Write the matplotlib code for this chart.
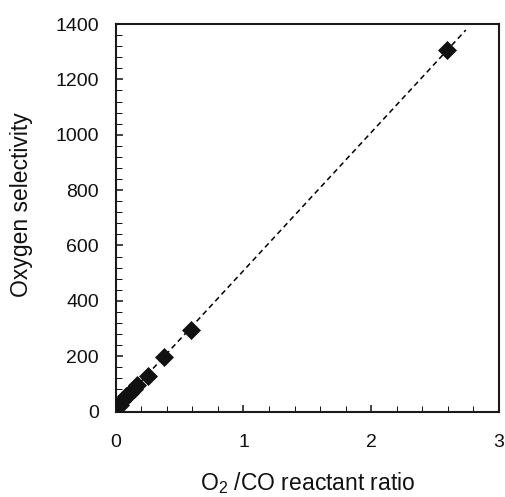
import numpy as np
import matplotlib
matplotlib.use("Agg")
import matplotlib.pyplot as plt
from matplotlib.ticker import MultipleLocator

plt.rcParams["font.family"] = ["Liberation Sans", "DejaVu Sans"]
plt.rcParams["mathtext.fontset"] = "custom"
plt.rcParams["mathtext.rm"] = "Liberation Sans"
plt.rcParams["mathtext.it"] = "Liberation Sans"

# O2/CO ratio vs oxygen selectivity
ratio = [0.03, 0.05, 0.08, 0.11, 0.14, 0.17, 0.25, 0.38, 0.59, 2.59]
selectivity = [25, 38, 55, 68, 82, 95, 129, 196, 294, 1306]

# linear fit drawn as the dashed trend line
slope, icpt = np.polyfit(ratio, selectivity, 1)
x_fit = np.linspace(0, 2.74, 50)
y_fit = slope * x_fit + icpt

fig = plt.figure(figsize=(5.06, 4.97), dpi=100)
ax = fig.add_axes([0.2287, 0.172, 0.7575, 0.7797])

ax.plot(x_fit, y_fit, color="black", lw=1.1, ls=(0, (3.5, 2.5)), zorder=2)
ax.plot(ratio, selectivity, ls="none", marker="D", ms=9.5,
        mfc="#111111", mec="#111111", mew=0.5, zorder=3)

ax.set_xlim(0, 3)
ax.set_ylim(0, 1400)
ax.xaxis.set_major_locator(MultipleLocator(1))
ax.xaxis.set_minor_locator(MultipleLocator(0.2))
ax.yaxis.set_major_locator(MultipleLocator(200))
ax.yaxis.set_minor_locator(MultipleLocator(40))

ax.tick_params(which="both", direction="in", top=False, right=False,
               labelsize=14, colors="#111111")
ax.tick_params(which="major", length=5, width=1.1)
ax.tick_params(which="minor", length=4, width=0.7)
ax.tick_params(axis="x", which="major", pad=16)
ax.tick_params(axis="y", which="major", pad=12)

for sp in ax.spines.values():
    sp.set_linewidth(1.5)
    sp.set_color("#1a1a1a")

ax.set_xlabel("O$_2$ /CO reactant ratio", fontsize=16.5, color="#111111")
ax.set_ylabel("Oxygen selectivity", fontsize=16.5, color="#111111")
ax.xaxis.set_label_coords(0.5, -0.152)
ax.yaxis.set_label_coords(-0.215, 0.534)

fig.savefig("out.png", dpi=100)
